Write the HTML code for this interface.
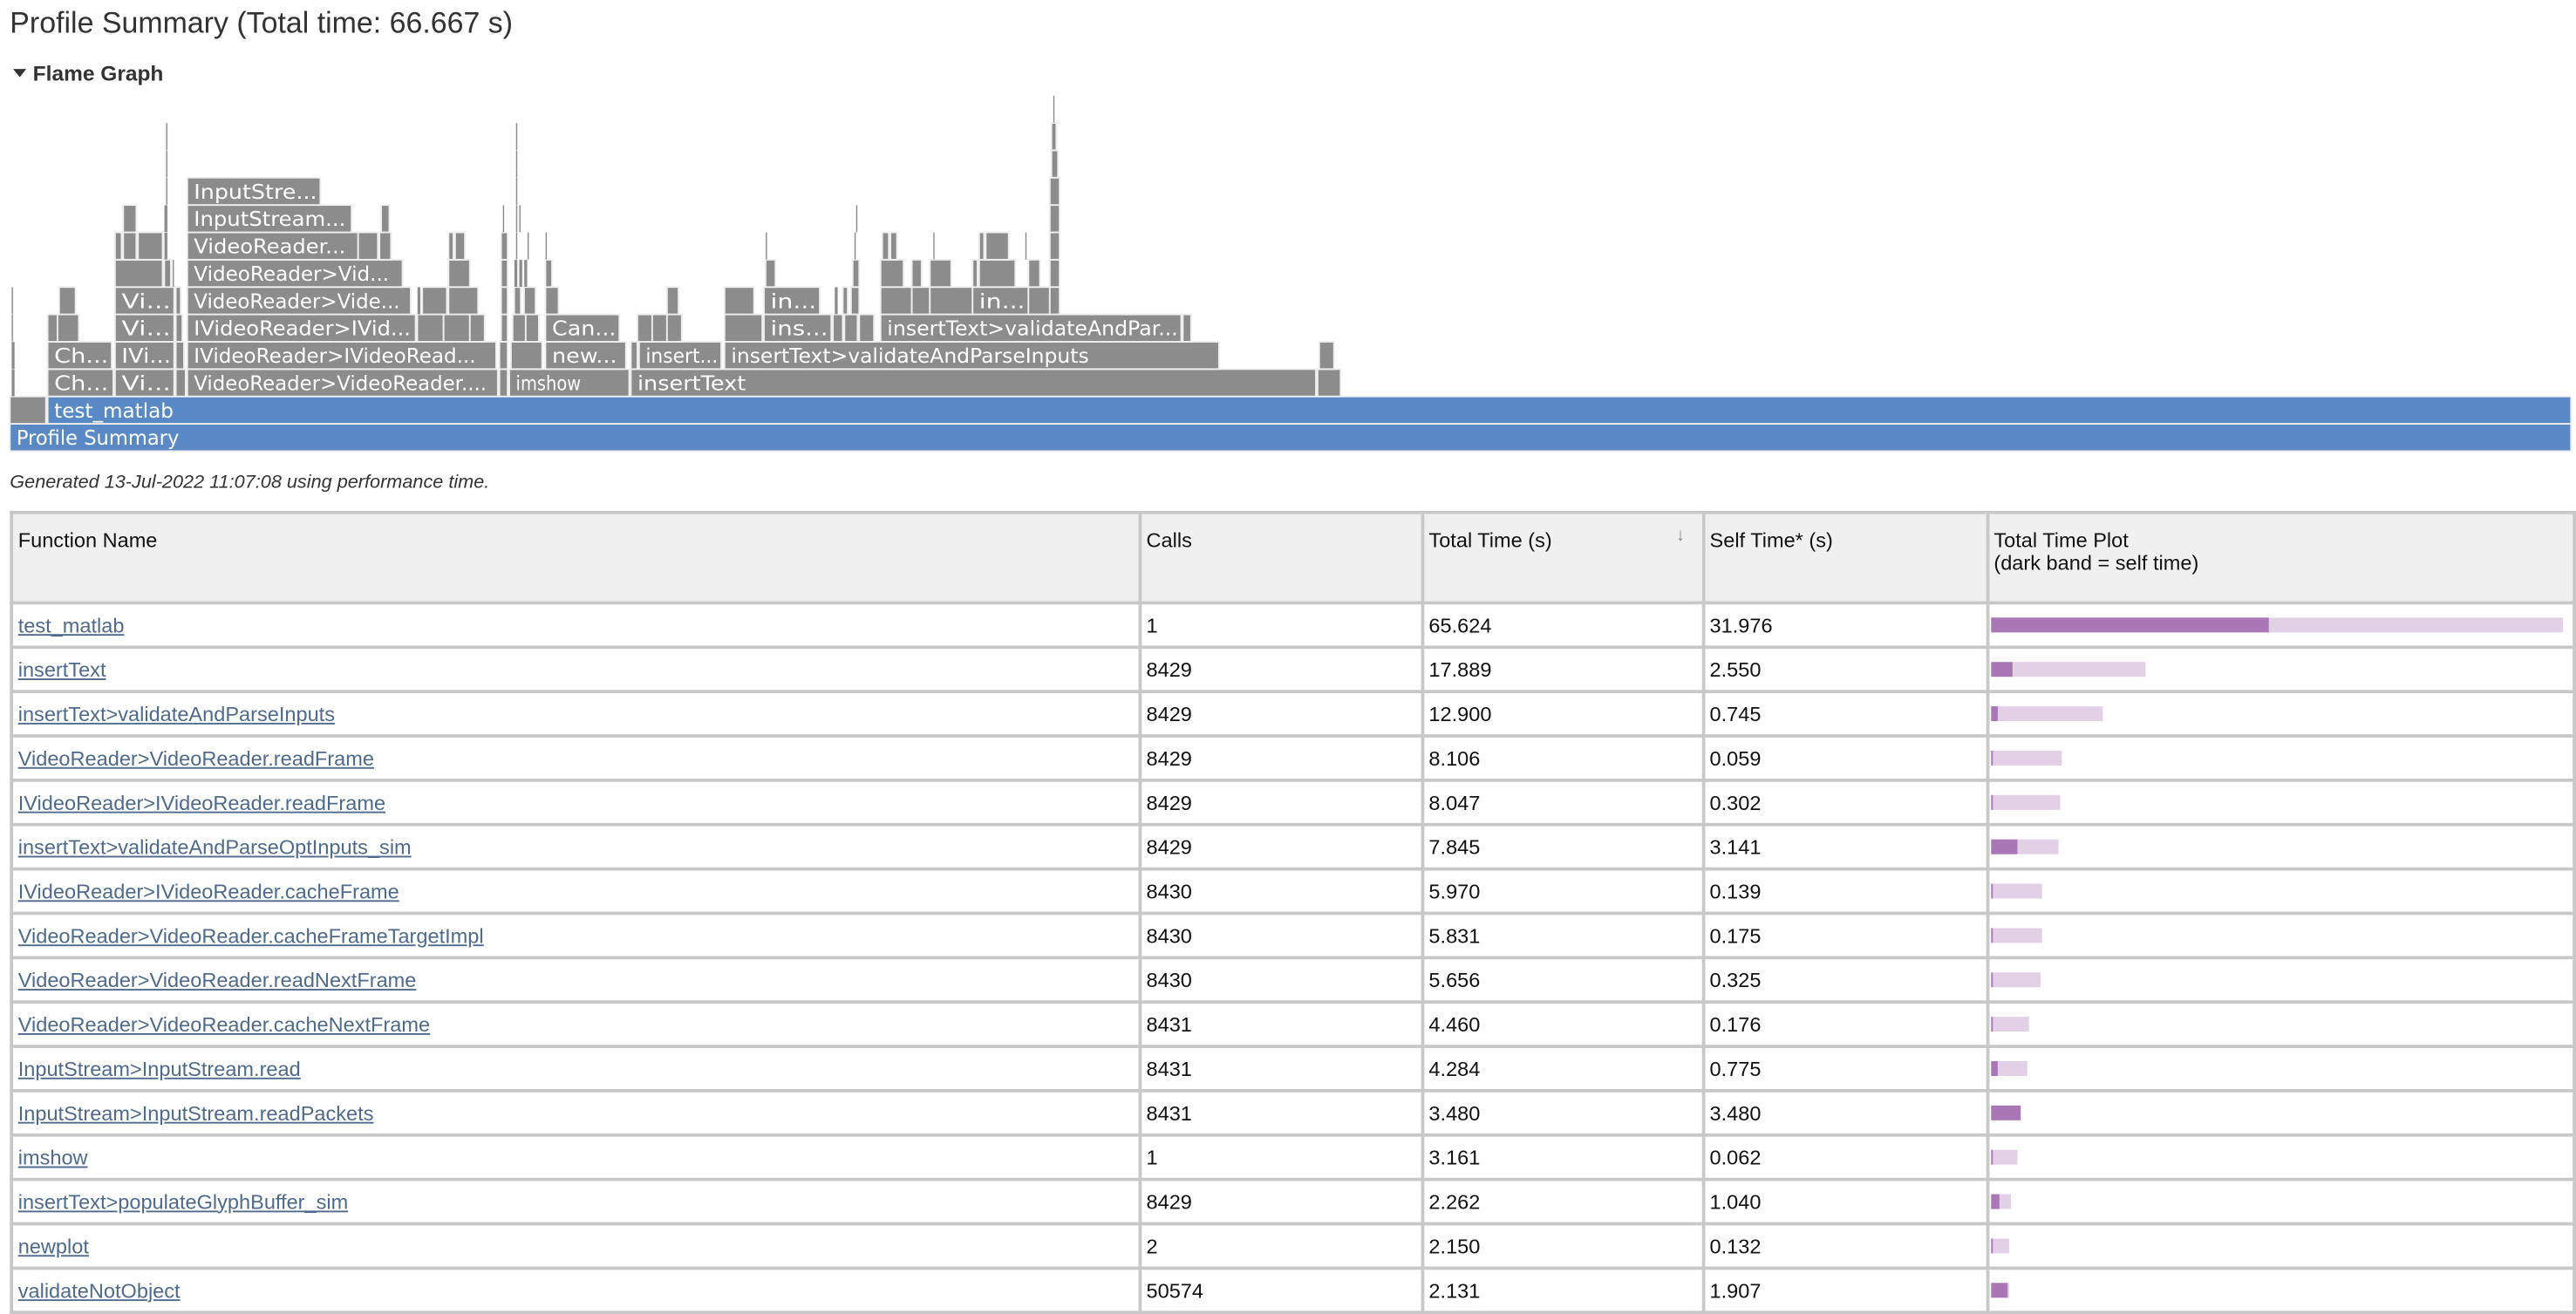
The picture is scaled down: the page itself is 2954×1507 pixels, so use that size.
<!DOCTYPE html>
<html><head><meta charset="utf-8">
<style>
html,body{margin:0;padding:0;background:#fff;}
body{width:2954px;height:1504px;overflow:hidden;position:relative;font-family:"Liberation Sans",Arial,sans-serif;}
#wrap{position:absolute;left:0;top:0;width:1568px;height:799px;transform:scale(1.88393);transform-origin:0 0;}
.title{position:absolute;left:6px;top:4px;font-size:18px;color:#333;}
.fgh{position:absolute;left:8px;top:37px;font-size:13px;font-weight:bold;color:#333;}
.tri{display:inline-block;width:0;height:0;border-left:4px solid transparent;border-right:4px solid transparent;border-top:5px solid #333;margin-right:4px;vertical-align:2px;}
#flame{position:absolute;left:0;top:0;}
.gen{position:absolute;left:6px;top:288px;font-size:11.5px;font-style:italic;color:#333;}
table{position:absolute;left:6px;top:311px;border-collapse:collapse;font-size:12.5px;color:#111;}
td,th{border:2px solid #c8c8c8;padding:0 3px;text-align:left;font-weight:normal;}
th{background:#f0f0f0;height:44px;vertical-align:top;padding-top:9px;line-height:14px;}
td{height:25px;}
a{color:#4f6a8c;text-decoration:underline;}
.bar{position:relative;height:9px;}
.bar div{position:absolute;top:0;height:9px;}
</style></head><body>
<div id="wrap">
<div class="title">Profile Summary (Total time: 66.667 s)</div>
<div class="fgh"><span class="tri"></span>Flame Graph</div>
<svg id="flame" width="1568" height="280"></svg>
<div class="gen">Generated 13-Jul-2022 11:07:08 using performance time.</div>
<table>
<thead><tr>
<th style="width:682px">Function Name</th>
<th style="width:165px">Calls</th>
<th style="width:164px;position:relative">Total Time (s)<span style="position:absolute;right:10px;top:6px;color:#888;font-size:11px">&#8595;</span></th>
<th style="width:166px">Self Time* (s)</th>
<th style="width:352px">Total Time Plot<br>(dark band = self time)</th>
</tr></thead>
<tbody id="tb"></tbody>
</table>
</div>
<script>
const fnNames=["test_matlab","insertText","insertText>validateAndParseInputs","VideoReader>VideoReader.readFrame","IVideoReader>IVideoReader.readFrame","insertText>validateAndParseOptInputs_sim","IVideoReader>IVideoReader.cacheFrame","VideoReader>VideoReader.cacheFrameTargetImpl","VideoReader>VideoReader.readNextFrame","VideoReader>VideoReader.cacheNextFrame","InputStream>InputStream.read","InputStream>InputStream.readPackets","imshow","insertText>populateGlyphBuffer_sim","newplot","validateNotObject"];
const calls=[1,8429,8429,8429,8429,8429,8430,8430,8430,8431,8431,8431,1,8429,2,50574];
const totalTimes=[65.624,17.889,12.900,8.106,8.047,7.845,5.970,5.831,5.656,4.460,4.284,3.480,3.161,2.262,2.150,2.131];
const selfTimes=[31.976,2.550,0.745,0.059,0.302,3.141,0.139,0.175,0.325,0.176,0.775,3.480,0.062,1.040,0.132,1.907];

// flame graph frames: level, start, end (page-x units), label, kind
const frames=[
[0,6,1565,"Profile Summary","b"],
[1,6,28,"","g"],[1,29,1565,"test_matlab","b"],
[2,7,9,""],[2,29,69,"Ch..."],[2,70,106,"Vi..."],[2,107,113,""],[2,114,303,"VideoReader>VideoReader...."],[2,304,309,""],[2,310,383,"imshow"],[2,384,801,"insertText"],[2,802,816,""],
[3,7,9,""],[3,29,68,"Ch..."],[3,70,106,"IVi..."],[3,107,112,""],[3,114,302,"IVideoReader>IVideoRead..."],[3,304,309,""],[3,311,330,""],[3,332,381,"new..."],[3,384,388,""],[3,389,439,"insert..."],[3,441,742,"insertText>validateAndParseInputs"],[3,803,812,""],
[4,7,8,""],[4,29,35,""],[4,35,48,""],[4,70,106,"Vi..."],[4,107,111,""],[4,114,253,"IVideoReader>IVid..."],[4,254,270,""],[4,270,286,""],[4,286,295,""],[4,305,309,""],[4,312,320,""],[4,320,328,""],[4,332,377,"Can..."],[4,388,397,""],[4,397,406,""],[4,406,415,""],[4,441,464,""],[4,465,506,"ins..."],[4,507,513,""],[4,514,522,""],[4,523,532,""],[4,536,719,"insertText>validateAndPar..."],[4,720,725,""],
[5,7,8,""],[5,36,46,""],[5,70,106,"Vi..."],[5,107,110,""],[5,114,250,"VideoReader>Vide..."],[5,254,256,""],[5,257,272,""],[5,273,291,""],[5,305,309,""],[5,313,317,""],[5,319,326,""],[5,332,340,""],[5,406,413,""],[5,441,459,""],[5,465,499,"in..."],[5,508,510,""],[5,513,516,""],[5,518,523,""],[5,536,555,""],[5,555,566,""],[5,566,592,""],[5,592,626,"in..."],[5,626,639,""],[5,639,645,""],
[6,70,99,""],[6,100,104,""],[6,105,106,""],[6,114,245,"VideoReader>Vid..."],[6,273,286,""],[6,305,309,""],[6,313,315,""],[6,316,318,""],[6,319,321,""],[6,332,336,""],[6,466,472,""],[6,519,523,""],[6,536,550,""],[6,555,561,""],[6,566,579,""],[6,592,595,""],[6,596,618,""],[6,626,633,""],[6,639,645,""],
[7,70,74,""],[7,75,83,""],[7,84,99,""],[7,100,102,""],[7,114,218,"VideoReader..."],[7,218,230,""],[7,231,238,""],[7,273,276,""],[7,277,283,""],[7,305,309,""],[7,314,315,""],[7,321,322,""],[7,332,333,""],[7,466,467,""],[7,520,521,""],[7,537,541,""],[7,542,546,""],[7,568,569,""],[7,596,599,""],[7,600,614,""],[7,624,625,""],[7,639,645,""],
[8,75,83,""],[8,100,102,""],[8,114,214,"InputStream..."],[8,232,237,""],[8,306,307,""],[8,314,315,""],[8,316,317,""],[8,521,522,""],[8,639,645,""],
[9,101,102,""],[9,114,195,"InputStre..."],[9,314,315,""],[9,639,645,""],
[10,101,102,""],[10,314,315,""],[10,640,644,""],
[11,101,102,""],[11,314,315,""],[11,640,643,""],
[12,641,642,""]
];
const ROW=16.65, BASE=258;
const svg=document.getElementById('flame');
const NS='http://www.w3.org/2000/svg';
function yOf(level){return BASE-level*ROW;}
frames.forEach((f,i)=>{
  const [lv,x0,x1,label,kind]=f;
  const w=Math.max(1,x1-x0);
  const g=document.createElementNS(NS,'g');
  
  
  const r=document.createElementNS(NS,'rect');
  r.setAttribute('x',x0);r.setAttribute('y',yOf(lv));
  r.setAttribute('width',w);r.setAttribute('height',ROW);
  r.setAttribute('fill',kind==='b'?'#5a8ac6':'#8c8c8c');
  r.setAttribute('stroke','#eeeeee');r.setAttribute('stroke-width',w<3?'0.3':'1');
  g.appendChild(r);
  if(label){
    const t=document.createElementNS(NS,'text');
    t.setAttribute('x',x0+4);t.setAttribute('y',yOf(lv)+12.8);
    t.setAttribute('fill','#fff');t.setAttribute('font-size','12.5');
    t.setAttribute('font-family','"DejaVu Sans", sans-serif');
    t.setAttribute('textLength',Math.min(x1-x0-6, label.length*6.6));
    t.setAttribute('lengthAdjust','spacingAndGlyphs');
    t.textContent=label;
    g.appendChild(t);
  }
  svg.appendChild(g);
});

const tb=document.getElementById('tb');
const maxT=Math.max(...totalTimes);
const BARW=348;
function xScale(v){return v/maxT*BARW;}
fnNames.forEach((n,i)=>{
  const tr=document.createElement('tr');
  
  
  const c0=document.createElement('td');
  const a=document.createElement('a');a.href='#';a.textContent=n;
  
  
  c0.appendChild(a);tr.appendChild(c0);
  [calls[i],totalTimes[i].toFixed(3),selfTimes[i].toFixed(3)].forEach(v=>{
    const td=document.createElement('td');td.textContent=v;tr.appendChild(td);
  });
  const tp=document.createElement('td');
  const bar=document.createElement('div');bar.className='bar';
  
  
  const lt=document.createElement('div');lt.style.left='0';lt.style.width=xScale(totalTimes[i])+'px';lt.style.background='#e2d0e7';
  const dk=document.createElement('div');dk.style.left='0';dk.style.width=xScale(selfTimes[i])+'px';dk.style.background='#a977b6';
  bar.appendChild(lt);bar.appendChild(dk);tp.appendChild(bar);tp.style.paddingLeft='1px';
  tr.appendChild(tp);
  tb.appendChild(tr);
});
</script>
</body></html>
